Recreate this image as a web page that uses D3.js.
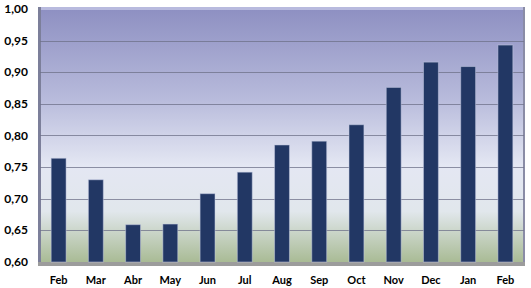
<!DOCTYPE html>
<html>
<head>
<meta charset="utf-8">
<script src="https://cdn.jsdelivr.net/npm/d3@7"></script>
<style>
  body { margin: 0; background: #fff; }
  text { font-family: Lato, "Open Sans", sans-serif; font-weight: bold; fill: #000; }
</style>
</head>
<body>
<div id="chart"></div>
<script>
const months = ["Feb", "Mar", "Abr", "May", "Jun", "Jul", "Aug", "Sep", "Oct", "Nov", "Dec", "Jan", "Feb"];
const values = [0.764, 0.730, 0.659, 0.660, 0.708, 0.742, 0.785, 0.791, 0.817, 0.876, 0.916, 0.909, 0.943];
const yTicks = [0.60, 0.65, 0.70, 0.75, 0.80, 0.85, 0.90, 0.95, 1.00];

const width = 531, height = 288;
const margin = { top: 9, right: 7, bottom: 25, left: 40 };

const svg = d3.select('#chart').append('svg')
  .attr('width', width)
  .attr('height', height);

const x = d3.scaleBand()
  .domain(d3.range(months.length))
  .range([margin.left, width - margin.right])
  .paddingInner(0.6)
  .paddingOuter(0.3);

const y = d3.scaleLinear()
  .domain([0.6, 1.0])
  .range([height - margin.bottom - 1, margin.top]);

const defs = svg.append('defs');
const grad = defs.append('linearGradient')
  .attr('id', 'bg')
  .attr('x1', 0).attr('y1', 0).attr('x2', 0).attr('y2', 1);
grad.append('stop').attr('offset', '0%').attr('stop-color', '#8e90c2');
grad.append('stop').attr('offset', '35%').attr('stop-color', '#b7badb');
grad.append('stop').attr('offset', '62%').attr('stop-color', '#e4e7f3');
grad.append('stop').attr('offset', '80%').attr('stop-color', '#e1e7ec');
grad.append('stop').attr('offset', '100%').attr('stop-color', '#a9bb95');

const x0 = margin.left, x1 = width - margin.right;
const yTop = y(1.0), yBot = y(0.6);

// back wall
svg.append('rect')
  .attr('x', x0).attr('y', yTop)
  .attr('width', x1 - x0).attr('height', yBot - yTop)
  .attr('fill', 'url(#bg)');

// top edge highlight
svg.append('rect')
  .attr('x', x0).attr('y', yTop - 2)
  .attr('width', x1 - x0).attr('height', 3)
  .attr('fill', '#b8bade');

// left wall edge
svg.append('rect')
  .attr('x', x0 - 2).attr('y', yTop - 2)
  .attr('width', 3).attr('height', yBot - yTop + 5)
  .attr('fill', '#7c7f9a');

// right edge
svg.append('rect')
  .attr('x', x1 - 1).attr('y', yTop - 2)
  .attr('width', 2).attr('height', yBot - yTop + 5)
  .attr('fill', '#8a8ca6');

// grid lines
svg.append('g')
  .selectAll('line')
  .data(yTicks.slice(1, -1))
  .join('line')
  .attr('x1', x0).attr('x2', x1)
  .attr('y1', d => Math.round(y(d)) + 0.5)
  .attr('y2', d => Math.round(y(d)) + 0.5)
  .attr('stroke', '#6d7088')
  .attr('stroke-opacity', 0.75)
  .attr('stroke-width', 1);

// floor
svg.append('rect')
  .attr('x', x0 - 2).attr('y', yBot)
  .attr('width', x1 - x0 + 3).attr('height', 4)
  .attr('fill', '#9c9c9c');

// bars
svg.append('g')
  .selectAll('rect')
  .data(values)
  .join('rect')
  .attr('x', (d, i) => x(i))
  .attr('y', d => y(d))
  .attr('width', x.bandwidth())
  .attr('height', d => yBot - y(d))
  .attr('fill', '#223764')
  .attr('stroke', '#c8cde6')
  .attr('stroke-opacity', 0.5)
  .attr('stroke-width', 1);

// y axis labels
svg.append('g')
  .selectAll('text')
  .data(yTicks)
  .join('text')
  .attr('x', 28)
  .attr('y', d => y(d) + 4)
  .attr('text-anchor', 'end')
  .attr('font-size', '12px')
  .text(d => d.toFixed(2).replace('.', ','));

// x axis labels
svg.append('g')
  .selectAll('text')
  .data(months)
  .join('text')
  .attr('x', (d, i) => x(i) + x.bandwidth() / 2)
  .attr('y', 284)
  .attr('text-anchor', 'middle')
  .attr('font-size', '11px')
  .text(d => d);
</script>
</body>
</html>
